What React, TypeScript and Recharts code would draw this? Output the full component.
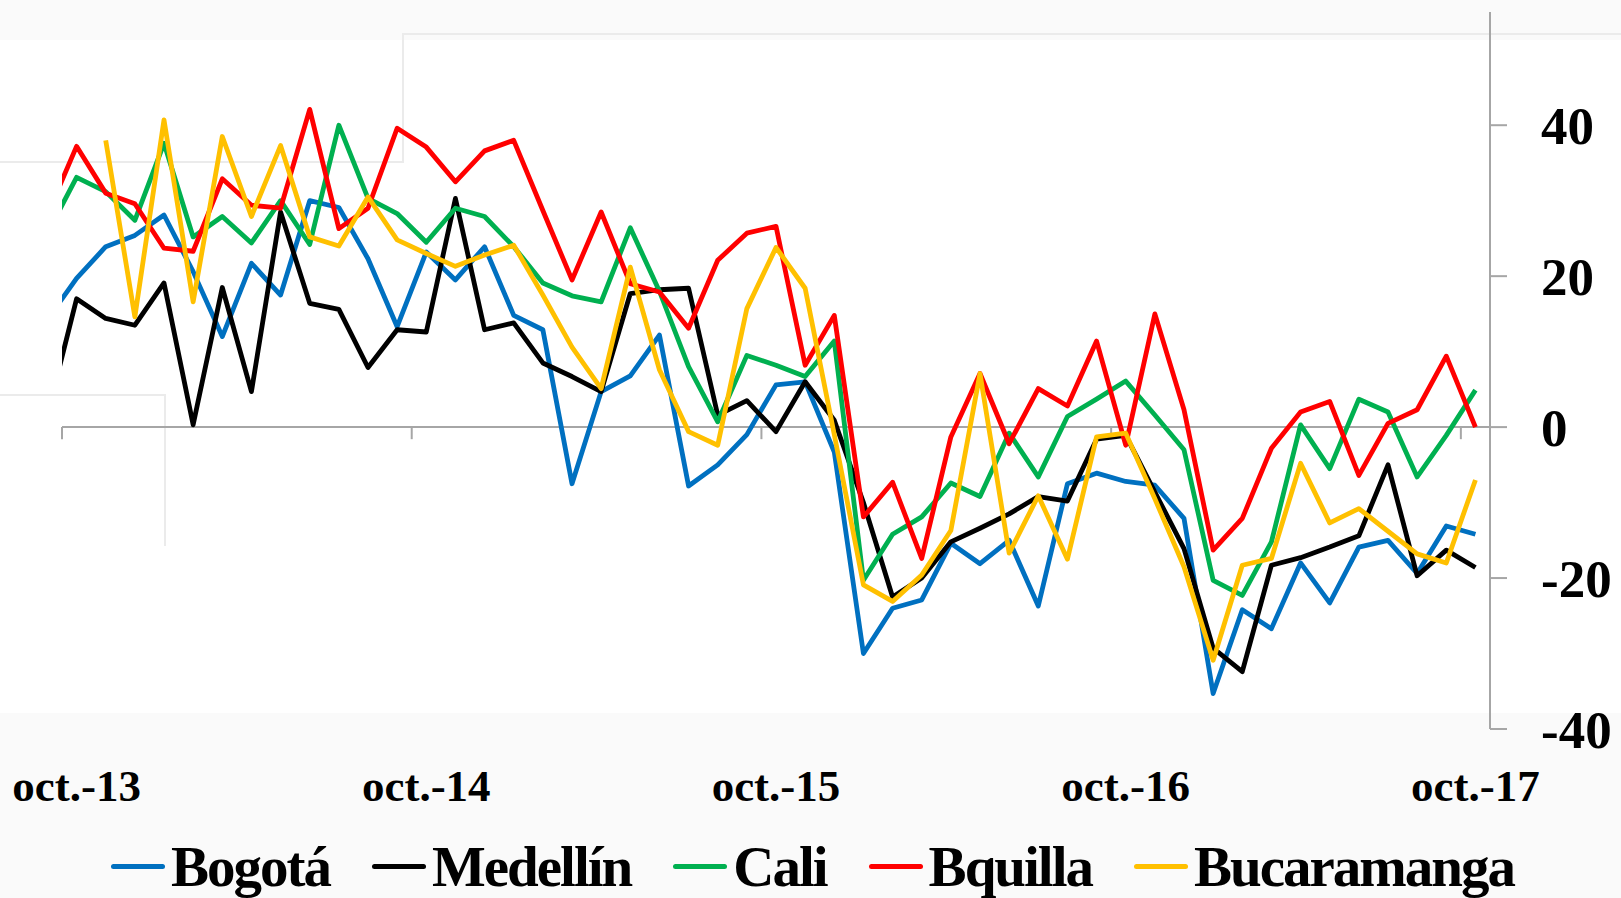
import React from 'react';
import { LineChart, Line, XAxis, YAxis, ReferenceLine, Legend } from 'recharts';

// month index: -1 = sep.-13, 0 = oct.-13 ... 48 = oct.-17
const monthIndex = Array.from({ length: 50 }, (_, i) => i - 1);

const bogota = [
  14.3, 19.7, 23.9, 25.4, 28.1, 20.6, 12.0, 21.7, 17.5, 30.0,
  29.1, 22.3, 13.3, 23.2, 19.5, 23.9, 14.8, 12.9, -7.5, 4.7,
  6.8, 12.2, -7.8, -5.0, -1.0, 5.6, 6.0, -3.3, -30.0, -24.0,
  -22.9, -15.4, -18.1, -15.0, -23.7, -7.5, -6.1, -7.2, -7.7, -12.1,
  -35.3, -24.2, -26.7, -18.0, -23.3, -15.9, -15.0, -19.4, -13.1, -14.2,
];

const medellin = [
  1.6, 17.0, 14.4, 13.5, 19.1, 0.3, 18.5, 4.7, 28.5, 16.4,
  15.6, 7.9, 12.9, 12.6, 30.3, 12.9, 13.8, 8.5, 6.7, 4.7,
  17.7, 18.2, 18.4, 1.6, 3.5, -0.6, 6.0, 0.9, -10.0, -22.5,
  -20.0, -15.2, -13.4, -11.5, -9.2, -9.8, -1.6, -1.1, -8.6, -16.1,
  -29.3, -32.4, -18.3, -17.3, -15.9, -14.4, -5.0, -19.7, -16.3, -18.6,
];

const cali = [
  25.7, 33.1, 31.2, 27.4, 37.6, 25.2, 27.9, 24.4, 30.0, 24.2,
  40.0, 30.3, 28.3, 24.5, 29.0, 27.9, 23.9, 19.1, 17.4, 16.6,
  26.4, 18.0, 8.0, 0.7, 9.5, 8.2, 6.7, 11.4, -20.3, -14.2,
  -11.9, -7.4, -9.2, -0.8, -6.6, 1.4, 3.7, 6.1, 1.6, -3.0,
  -20.3, -22.3, -15.2, 0.3, -5.5, 3.7, 2.0, -6.6, -1.1, 4.9,
];

const bquilla = [
  28.2, 37.2, 31.0, 29.6, 23.7, 23.3, 32.9, 29.4, 29.0, 42.1,
  26.3, 29.0, 39.6, 37.1, 32.5, 36.6, 38.0, 28.7, 19.5, 28.5,
  19.0, 17.9, 13.1, 22.1, 25.7, 26.6, 8.2, 14.8, -11.9, -7.3,
  -17.4, -1.3, 7.1, -2.2, 5.1, 2.8, 11.4, -2.4, 15.0, 2.3,
  -16.3, -12.1, -2.8, 2.0, 3.4, -6.4, 0.5, 2.3, 9.4, 0.0,
];

const bucaramanga = [
  null, null, 38.0, 14.6, 40.7, 16.6, 38.5, 27.9, 37.3, 25.2,
  24.0, 30.5, 24.8, 23.0, 21.3, 22.8, 24.1, 17.5, 10.6, 5.1,
  21.2, 7.6, -0.6, -2.4, 15.7, 23.8, 18.4, -1.0, -20.9, -23.1,
  -19.6, -13.7, 7.1, -16.7, -9.1, -17.5, -1.3, -0.8, -9.5, -18.5,
  -30.9, -18.3, -17.4, -4.8, -12.7, -10.8, -13.8, -16.8, -18.0, -7.0,
];

const xLabelTicks = [0, 12, 24, 36, 48];
const xLabels = ['oct.-13', 'oct.-14', 'oct.-15', 'oct.-16', 'oct.-17'];
const xMarkTicks = [-0.5, 11.5, 23.5, 35.5, 47.5];
const yTicks = [-40, -20, 0, 20, 40];

const series = [
  { key: 'bogota', name: 'Bogotá', color: '#0070C0', values: bogota },
  { key: 'medellin', name: 'Medellín', color: '#000000', values: medellin },
  { key: 'cali', name: 'Cali', color: '#00B050', values: cali },
  { key: 'bquilla', name: 'Bquilla', color: '#FF0000', values: bquilla },
  { key: 'bucaramanga', name: 'Bucaramanga', color: '#FFC000', values: bucaramanga },
];

const data = monthIndex.map((m, i) => {
  const row: any = { m };
  series.forEach(s => { row[s.key] = s.values[i]; });
  return row;
});

const FONT = '"Liberation Serif", "Times New Roman", serif';
const AXIS = '#a6a6a6';

document.body.style.margin = '0';
document.body.style.background = '#fafafa';

const LegendBox = () => (
  <div style={{
    display: 'flex', justifyContent: 'center', alignItems: 'center', gap: 42,
    fontFamily: FONT, fontWeight: 700, fontSize: 57, letterSpacing: -2,
    lineHeight: '53px', height: 53, color: '#000', paddingLeft: 4,
  }}>
    {series.map(s => (
      <div key={s.key} style={{ display: 'flex', alignItems: 'center' }}>
        <span style={{ display: 'inline-block', width: 54, height: 5, borderRadius: 3, background: s.color, marginRight: 6 }} />
        <span>{s.name}</span>
      </div>
    ))}
  </div>
);

export default function App() {
  return (
    <div style={{ position: 'relative', width: 1621, height: 898, background: '#fafafa', overflow: 'hidden' }}>
      {/* faint panel artifacts of the original slide */}
      <div style={{ position: 'absolute', left: 0, top: 40, width: 1621, height: 673, background: '#ffffff' }} />
      <div style={{ position: 'absolute', left: 403, top: 33, width: 1300, height: 2, background: '#ebebeb' }} />
      <div style={{ position: 'absolute', left: 402, top: 33, width: 2, height: 130, background: '#ebebeb' }} />
      <div style={{ position: 'absolute', left: 0, top: 161, width: 404, height: 2, background: '#ebebeb' }} />
      <div style={{ position: 'absolute', left: 0, top: 394, width: 166, height: 2, background: '#ebebeb' }} />
      <div style={{ position: 'absolute', left: 164, top: 394, width: 2, height: 152, background: '#ebebeb' }} />
      <div style={{ position: 'absolute', left: 0, top: 0 }}>
        <LineChart width={1621} height={898} data={data} margin={{ top: 12, right: 0, left: 62, bottom: 0 }}>
          <XAxis
            dataKey="m"
            type="number"
            domain={[-0.5, 48.5]}
            allowDataOverflow
            ticks={xLabelTicks}
            tickFormatter={(v: number) => xLabels[xLabelTicks.indexOf(v)] ?? ''}
            axisLine={false}
            tickLine={false}
            tickSize={0}
            tickMargin={40}
            height={169}
            interval={0}
            tick={{ fontFamily: FONT, fontWeight: 700, fontSize: 45, fill: '#000' }}
          />
          <YAxis
            orientation="right"
            type="number"
            domain={[-40, 55]}
            allowDataOverflow
            ticks={yTicks}
            width={131}
            axisLine={{ stroke: AXIS, strokeWidth: 2 }}
            tickLine={{ stroke: AXIS, strokeWidth: 2 }}
            tickSize={17}
            tickMargin={34}
            interval={0}
            tick={{ fontFamily: FONT, fontWeight: 700, fontSize: 53, fill: '#000' }}
          />
          <ReferenceLine y={0} stroke={AXIS} strokeWidth={2} />
          {xMarkTicks.map(t => (
            <ReferenceLine key={t} segment={[{ x: t, y: 0 }, { x: t, y: -1.6 }]} stroke={AXIS} strokeWidth={2} />
          ))}
          {series.map(s => (
            <Line
              key={s.key}
              dataKey={s.key}
              name={s.name}
              stroke={s.color}
              strokeWidth={4.8}
              strokeLinejoin="round"
              dot={false}
              activeDot={false}
              connectNulls={false}
              isAnimationActive={false}
            />
          ))}
          <Legend
            layout="horizontal"
            verticalAlign="middle"
            align="center"
            wrapperStyle={{ top: 840, left: 0, width: 1621 }}
            content={() => <LegendBox />}
          />
        </LineChart>
      </div>
    </div>
  );
}
